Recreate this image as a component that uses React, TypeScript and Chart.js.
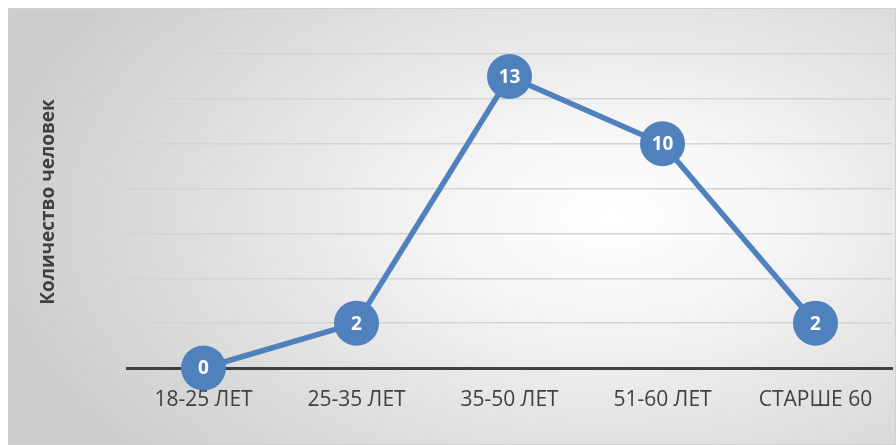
import React, { useEffect, useRef } from "react";
import { Chart, registerables } from "chart.js";

Chart.register(...registerables);

const categories = ["18-25 ЛЕТ", "25-35 ЛЕТ", "35-50 ЛЕТ", "51-60 ЛЕТ", "СТАРШЕ 60"];
const values = [0, 2, 13, 10, 2];
const yTitle = "Количество человек";

const BLUE = "#4f81bd";
const FONT = "'Open Sans', 'DejaVu Sans', sans-serif";

const pointLabels = {
  id: "pointLabels",
  afterDatasetsDraw(chart: any) {
    const ctx = chart.ctx;
    const meta = chart.getDatasetMeta(0);
    const data = chart.data.datasets[0].data as number[];
    ctx.save();
    ctx.fillStyle = "#ffffff";
    ctx.font = `bold 19px ${FONT}`;
    ctx.textAlign = "center";
    ctx.textBaseline = "middle";
    meta.data.forEach((pt: any, i: number) => {
      ctx.fillText(String(data[i]), pt.x, pt.y + 1);
    });
    ctx.restore();
  },
};

const yTitlePlugin = {
  id: "yTitlePlugin",
  afterDraw(chart: any) {
    const ctx = chart.ctx;
    const area = chart.chartArea;
    ctx.save();
    ctx.translate(40, (area.top + area.bottom) / 2 - 9);
    ctx.rotate(-Math.PI / 2);
    ctx.fillStyle = "#404040";
    ctx.font = `bold 19px ${FONT}`;
    ctx.textAlign = "center";
    ctx.textBaseline = "middle";
    ctx.fillText(yTitle, 0, 0);
    ctx.restore();
  },
};

export default function App() {
  const ref = useRef<HTMLCanvasElement>(null);
  useEffect(() => {
    if (!ref.current) return;
    const chart = new Chart(ref.current, {
      type: "line",
      data: {
        labels: categories,
        datasets: [
          {
            data: values,
            borderColor: BLUE,
            backgroundColor: BLUE,
            borderWidth: 5.5,
            pointRadius: 22.5,
            pointHoverRadius: 22.5,
            pointBackgroundColor: BLUE,
            pointBorderColor: BLUE,
            pointBorderWidth: 0,
            tension: 0,
            clip: false as any,
          },
        ],
      },
      options: {
        animation: false,
        responsive: false,
        layout: { autoPadding: false, padding: { top: 45, right: 3, left: 0, bottom: 0 } },
        plugins: { legend: { display: false }, tooltip: { enabled: false } },
        scales: {
          x: {
            offset: true,
            grid: { display: false, drawTicks: false },
            border: { display: true, color: "#404040", width: 3 },
            ticks: { color: "#404040", font: { family: FONT, size: 21 }, padding: 19, maxRotation: 0 },
            afterFit: (s: any) => {
              s.height = 76;
              s.paddingLeft = 0;
              s.paddingRight = 0;
            },
          },
          y: {
            min: 0,
            max: 14,
            ticks: { display: false, stepSize: 2 },
            grid: {
              drawTicks: false,
              color: (c: any) => (c.tick && c.tick.value === 0 ? "rgba(0,0,0,0)" : "#d4d4d4"),
              lineWidth: 1.5,
            },
            border: { display: false },
            title: { display: false },
            afterFit: (s: any) => {
              s.width = 118;
            },
          },
        },
      },
      plugins: [pointLabels, yTitlePlugin],
    });
    return () => chart.destroy();
  }, []);

  return (
    <div
      style={{
        position: "fixed",
        left: 8,
        top: 8,
        width: 888,
        height: 437,
        boxSizing: "border-box",
        border: "1px solid #d0d0d0",
        background:
          "radial-gradient(ellipse 70% 85% at 68% 48%, #ffffff 0%, #f6f6f6 25%, #e2e2e2 60%, #cdcdcd 100%)",
      }}
    >
      <canvas ref={ref} width={886} height={435} style={{ display: "block", width: 886, height: 435 }} />
    </div>
  );
}
